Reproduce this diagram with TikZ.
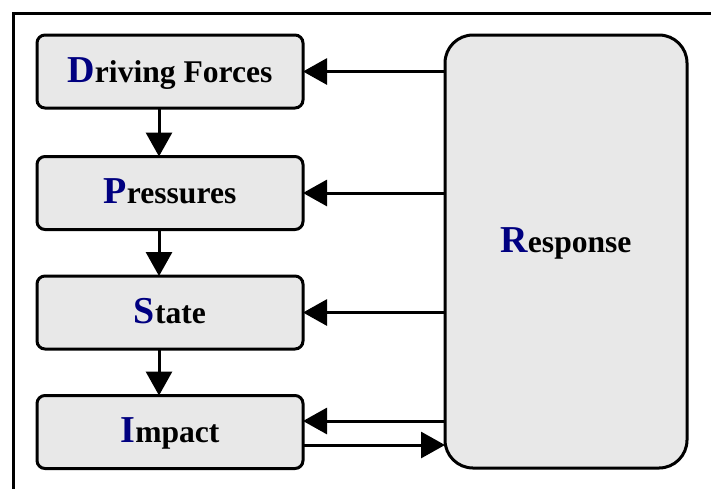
\documentclass[tikz,border=0pt]{standalone}
\usepackage{fontspec}
\setmainfont{Liberation Serif}
\usetikzlibrary{arrows.meta}
\definecolor{boxfill}{HTML}{E8E8E8}
\definecolor{initial}{HTML}{000080}
\newcommand{\Ini}[1]{{\color{initial}\fontsize{38}{38}\selectfont #1}}
\tikzset{
  stage/.style={draw=black, line width=3pt, fill=boxfill, rounded corners=8pt,
    minimum width=266pt, minimum height=73pt, inner sep=0pt, outer sep=0pt},
  bigbox/.style={draw=black, line width=3pt, fill=boxfill, rounded corners=28pt,
    minimum width=242pt, minimum height=433pt, inner sep=0pt, outer sep=0pt},
  caption/.style={font=\bfseries\fontsize{31.6}{31.6}\selectfont, text height=21pt,
    text depth=0pt, inner sep=0pt},
  flow/.style={line width=3pt, -{Triangle[length=24pt,width=26pt]}}
}
\begin{document}
\begin{tikzpicture}[x=1pt,y=-1pt]
  \useasboundingbox (0,0) rectangle (711,488);
  \clip (0,0) rectangle (711,488);
  % outer frame, running past the right and bottom edges
  \draw[line width=3pt] (13,520) -- (13,13) -- (740,13);

  % DPSIR stages
  \node[stage] (D) at (170,71.5) {};
  \node[caption] (Dt) at (D.center) {\Ini{D}riving Forces};
  \node[stage] (P) at (170,193) {};
  \node[caption] (Pt) at (P.center) {\Ini{P}ressures};
  \node[stage] (S) at (170,312.5) {};
  \node[caption] (St) at (S.center) {\Ini{S}tate};
  \node[stage] (I) at (170,432) {};
  \node[caption] (It) at (I.center) {\Ini{I}mpact};

  \node[bigbox] (R) at (566,251.5) {};
  \node[caption] (Rt) at ([yshift=10pt]R.center) {\Ini{R}esponse};

  % causal chain
  \draw[flow] ([xshift=-11pt]D.south) -- ([xshift=-11pt]P.north);
  \draw[flow] ([xshift=-11pt]P.south) -- ([xshift=-11pt]S.north);
  \draw[flow] ([xshift=-11pt]S.south) -- ([xshift=-11pt]I.north);

  % responses feeding back
  \draw[flow] (R.west |- D.east) -- (D.east);
  \draw[flow] (R.west |- P.east) -- (P.east);
  \draw[flow] (R.west |- S.east) -- (S.east);
  \draw[flow] ([yshift=11pt]R.west |- I.east) -- ([yshift=11pt]I.east);
  \draw[flow] ([yshift=-13pt]I.east) -- ([yshift=-13pt]R.west |- I.east);
\end{tikzpicture}
\end{document}
